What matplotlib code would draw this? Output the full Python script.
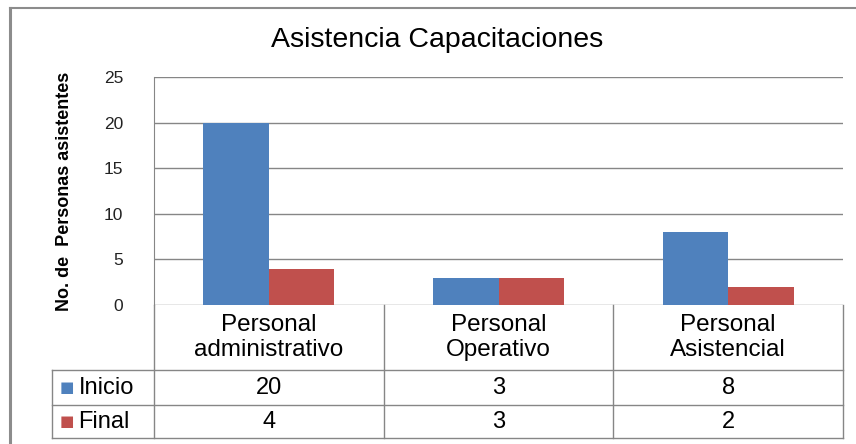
import matplotlib.pyplot as plt
import matplotlib.transforms as mtransforms
import numpy as np

plt.rcParams['font.family'] = ['Liberation Sans', 'DejaVu Sans']

categories = ['Personal\nadministrativo', 'Personal\nOperativo', 'Personal\nAsistencial']
inicio = [20, 3, 8]
final = [4, 3, 2]
series = [('Inicio', inicio, '#4F81BD'), ('Final', final, '#C0504D')]

W, H = 856, 444
fig = plt.figure(figsize=(W / 100, H / 100), dpi=100)

# chart area frame (only top and left edges show)
fig.add_artist(plt.Line2D([10 / W, 10 / W], [0, 1 - 8 / H], color='#8c8c8c', lw=2.2))
fig.add_artist(plt.Line2D([10 / W, 1], [1 - 8 / H, 1 - 8 / H], color='#8c8c8c', lw=1.5))

left, right, top, bottom = 154, 843, 77, 305
ax = fig.add_axes([left / W, 1 - bottom / H, (right - left) / W, (bottom - top) / H])

x = np.arange(len(categories))
bw = 1 / 3.5
ax.bar(x - bw / 2, inicio, bw, color=series[0][2], zorder=3)
ax.bar(x + bw / 2, final, bw, color=series[1][2], zorder=3)

ax.set_xlim(-0.5, len(categories) - 0.5)
ax.set_ylim(0, 25)
ax.set_yticks(range(0, 26, 5))
ax.set_xticks([])
ax.tick_params(axis='y', length=0, pad=22, labelsize=12.5, labelcolor='#222222')
ax.yaxis.grid(True, color='#868686', lw=1)
for s in ['top', 'right', 'bottom']:
    ax.spines[s].set_visible(False)
ax.spines['left'].set_color('#868686')

ax.set_ylabel('No. de  Personas asistentes', fontsize=13, fontweight='bold', labelpad=22)
fig.text(437 / W, 1 - 40 / H, 'Asistencia Capacitaciones', ha='center', va='center', fontsize=20.5)

# data table under the axis
ah = bottom - top
trans = mtransforms.blended_transform_factory(ax.transData, ax.transAxes)
y_rows = [0, -65 / ah, -100 / ah, -133 / ah]
x_leg = -0.5 + (52 - left) / ((right - left) / len(categories))
lc = '#868686'

def tline(xs, ys):
    ax.add_line(plt.Line2D(xs, ys, transform=trans, color=lc, lw=1, clip_on=False))

for yv in y_rows[1:]:
    tline([x_leg, 2.5], [yv, yv])
tline([x_leg, x_leg], [y_rows[1], y_rows[3]])
for xv in [-0.5, 0.5, 1.5, 2.5]:
    tline([xv, xv], [0, y_rows[3]])

for i, cat in enumerate(categories):
    ax.text(i, (y_rows[0] + y_rows[1]) / 2, cat, transform=trans, ha='center', va='center',
            fontsize=17.5, linespacing=1.2)

for r, (name, vals, col) in enumerate(series):
    yc = (y_rows[r + 1] + y_rows[r + 2]) / 2
    ax.text(x_leg + 0.035, yc, '\u25A0', transform=trans, ha='left', va='center',
            fontsize=11, color=col, family='DejaVu Sans')
    ax.text(x_leg + 0.115, yc, name, transform=trans, ha='left', va='center', fontsize=17)
    for i, v in enumerate(vals):
        ax.text(i, yc, str(v), transform=trans, ha='center', va='center', fontsize=17)

fig.savefig('out.png', dpi=100, facecolor='white')
